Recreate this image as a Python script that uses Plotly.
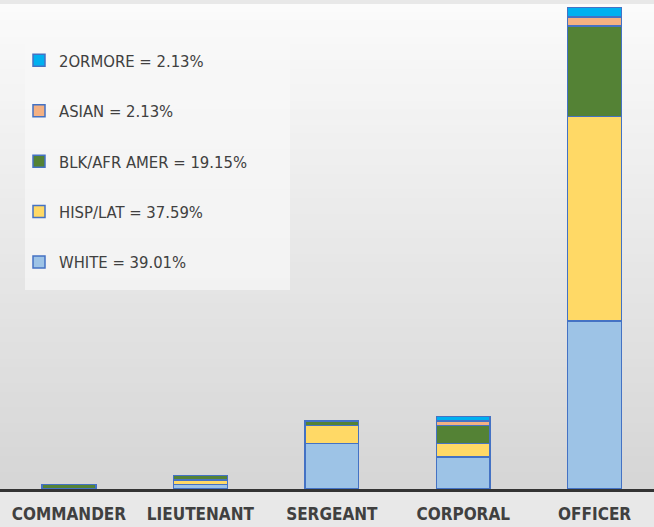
import plotly.graph_objects as go

ranks = ["COMMANDER", "LIEUTENANT", "SERGEANT", "CORPORAL", "OFFICER"]
white = [0, 1, 10, 7, 37]
hisp = [0, 1, 4, 3, 45]
blk = [1, 1, 1, 4, 20]
asian = [0, 0, 0, 1, 2]
two_or_more = [0, 0, 0, 1, 2]

series_names = ["WHITE = 39.01%", "HISP/LAT = 37.59%", "BLK/AFR AMER = 19.15%",
                "ASIAN = 2.13%", "2ORMORE = 2.13%"]
series_vals = [white, hisp, blk, asian, two_or_more]
series_colors = ["#9DC3E6", "#FFD966", "#548235", "#F4B183", "#00B0F0"]

FONT = "DejaVu Sans Condensed, Liberation Sans Narrow, sans-serif"

fig = go.Figure()
for i, (name, vals, col) in enumerate(zip(series_names, series_vals, series_colors)):
    fig.add_trace(go.Bar(
        x=ranks, y=vals, name=name, legendgroup=name, legendrank=100 - i,
        marker=dict(color=col, line=dict(color="#4472C4", width=1.5)),
        width=0.41,
    ))

# background gradient (styling only)
shapes = []
n = 60
for i in range(n):
    t = i / (n - 1)
    c = int(251 - t * (251 - 214))
    shapes.append(dict(type="rect", xref="paper", yref="paper", layer="below",
                       x0=0, x1=1, y0=1 - (i + 1) / n, y1=1 - i / n + 0.002,
                       line=dict(width=0), fillcolor=f"rgb({c},{c},{c})"))
# lighter legend panel
shapes.append(dict(type="rect", xref="paper", yref="paper", layer="below",
                   x0=25 / 654, x1=290 / 654, y0=(489 - 290) / 484, y1=(489 - 38) / 484,
                   line=dict(width=0), fillcolor="rgba(248,248,248,0.7)"))

fig.update_layout(
    width=654, height=527,
    margin=dict(l=0, r=0, t=5, b=38),
    barmode="stack",
    paper_bgcolor="#e8e8e8",
    plot_bgcolor="rgba(0,0,0,0)",
    shapes=shapes,
    showlegend=True,
    legend=dict(
        x=19 / 654, y=(489 - 43) / 484, xanchor="left", yanchor="top",
        traceorder="grouped", tracegroupgap=26,
        bgcolor="rgba(0,0,0,0)",
        font=dict(family=FONT, size=16.5, color="#404040"),
        itemwidth=30,
    ),
    xaxis=dict(
        range=[-0.525, 4.452], showline=True, linecolor="#333333", linewidth=2.5,
        showgrid=False, ticks="", zeroline=False, ticklabelstandoff=8,
        tickfont=dict(family=FONT, size=17, color="#404040", weight="bold"),
    ),
    yaxis=dict(range=[0, 106.6], visible=False, showgrid=False, zeroline=False),
)

fig.write_html("out.html", config={"displayModeBar": False},
               post_script="document.body.style.margin='0';")
